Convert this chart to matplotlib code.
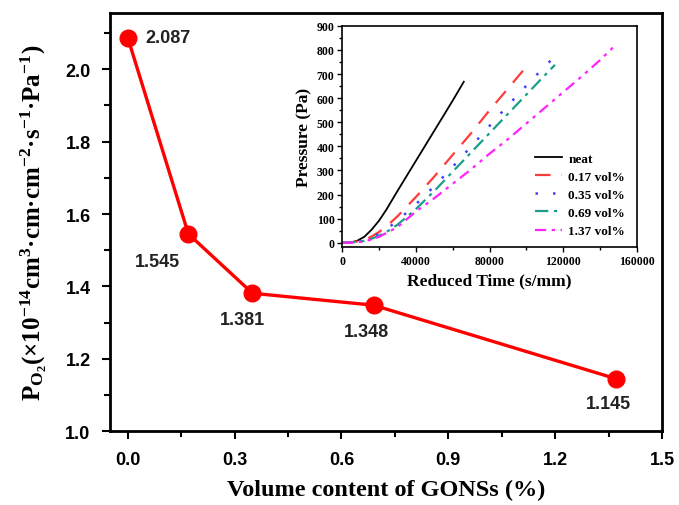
import matplotlib
matplotlib.use("Agg")
import matplotlib.pyplot as plt
from matplotlib.ticker import MultipleLocator

plt.rcParams['mathtext.default'] = 'regular'

# main data
content = [0.0, 0.17, 0.35, 0.69, 1.37]
perm = [2.087, 1.545, 1.381, 1.348, 1.145]
perm_labels = ["2.087", "1.545", "1.381", "1.348", "1.145"]
# label offsets in points (dx, dy) and alignment
label_off = [(13, 0), (-6, -20), (-7, -19), (-5, -19), (-5, -18)]
label_ha = ["left", "right", "center", "center", "center"]

# inset data: pressure vs reduced time
t_neat = [0, 4000, 8000, 12000, 16000, 20000, 24000, 30000, 40000, 50000, 60000, 66000]
p_neat = [0, 1, 8, 25, 55, 92, 138, 215, 340, 465, 590, 668]
t_017 = [0, 5000, 10000, 15000, 20000, 25000, 30000, 40000, 50000, 60000, 70000, 80000, 90000, 101000]
p_017 = [0, 2, 8, 22, 45, 75, 110, 190, 275, 365, 455, 550, 640, 740]
t_035 = [0, 5000, 10000, 15000, 20000, 25000, 30000, 40000, 50000, 60000, 70000, 80000, 90000, 100000, 110000, 118000]
p_035 = [0, 2, 6, 18, 38, 62, 92, 160, 235, 315, 400, 485, 570, 652, 732, 792]
t_069 = [0, 5000, 10000, 15000, 20000, 25000, 30000, 40000, 50000, 60000, 70000, 80000, 90000, 100000, 110000, 115500]
p_069 = [0, 2, 5, 14, 30, 50, 75, 140, 215, 295, 375, 455, 535, 615, 695, 738]
t_137 = [0, 5000, 10000, 15000, 20000, 25000, 30000, 40000, 50000, 60000, 70000, 80000, 90000, 100000, 110000, 120000, 130000, 140000, 149000]
p_137 = [0, 1, 4, 12, 25, 45, 65, 130, 185, 245, 305, 370, 430, 495, 560, 625, 690, 758, 825]
series_names = ["neat", "0.17 vol%", "0.35 vol%", "0.69 vol%", "1.37 vol%"]

sans = "Liberation Sans"
serif = "Liberation Serif"

fig = plt.figure(figsize=(6.79, 5.06), dpi=100)
ax = fig.add_axes([0.162, 0.146, 0.813, 0.826])

ax.plot(content, perm, color="red", lw=2.4, marker="o", ms=12, zorder=3)
for x, y, s, off, ha in zip(content, perm, perm_labels, label_off, label_ha):
    ax.annotate(s, (x, y), xytext=off, textcoords="offset points",
                ha=ha, va="center", fontsize=13, fontweight="bold",
                family=sans, color="#222222")

ax.set_xlim(-0.05, 1.5)
ax.set_ylim(1.0, 2.155)
ax.xaxis.set_major_locator(MultipleLocator(0.3))
ax.xaxis.set_minor_locator(MultipleLocator(0.15))
ax.yaxis.set_major_locator(MultipleLocator(0.2))
ax.yaxis.set_minor_locator(MultipleLocator(0.1))
ax.tick_params(which="both", direction="out", width=1.5, top=False, right=False)
ax.tick_params(which="major", length=6, labelsize=13, pad=8)
ax.tick_params(which="minor", length=4)
for lab in ax.get_xticklabels() + ax.get_yticklabels():
    lab.set_family(sans)
    lab.set_fontweight("bold")
for sp in ax.spines.values():
    sp.set_linewidth(2)

ax.set_xlabel("Volume content of GONSs (%)", family=serif, fontweight="bold",
              fontsize=17.5, labelpad=8)
ax.set_ylabel("P$_{O_2}$(×10$^{-14}$cm$^3$·cm·cm$^{-2}$·s$^{-1}$·Pa$^{-1}$)",
              family=serif, fontweight="bold", fontsize=18, labelpad=12)

# inset
ins = fig.add_axes([0.504, 0.510, 0.434, 0.437])
ins.plot(t_neat, p_neat, color="black", lw=1.3, label=series_names[0])
ins.plot(t_017, p_017, color="#ff3b3b", lw=1.6, dashes=(7, 5), label=series_names[1])
ins.plot(t_035, p_035, color="#4040ff", lw=1.8, dashes=(1, 6), label=series_names[2])
ins.plot(t_069, p_069, color="#1a9e8c", lw=1.6, dashes=(6, 2.5, 1.5, 2.5), label=series_names[3])
ins.plot(t_137, p_137, color="#ff22ff", lw=1.6, dashes=(5, 2.5, 1.5, 2.5, 1.5, 2.5), label=series_names[4])
ins.set_xlim(0, 160000)
ins.set_ylim(-17, 900)
ins.xaxis.set_major_locator(MultipleLocator(40000))
ins.xaxis.set_minor_locator(MultipleLocator(20000))
ins.yaxis.set_major_locator(MultipleLocator(100))
ins.yaxis.set_minor_locator(MultipleLocator(50))
ins.tick_params(which="both", direction="out", width=1, top=False, right=False)
ins.tick_params(which="major", length=3.5, labelsize=8.5, pad=2)
ins.tick_params(which="minor", length=2)
for lab in ins.get_xticklabels() + ins.get_yticklabels():
    lab.set_family(serif)
    lab.set_fontweight("bold")
for sp in ins.spines.values():
    sp.set_linewidth(1.2)
ins.set_xlabel("Reduced Time (s/mm)", family=serif, fontweight="bold", fontsize=12.5, labelpad=4)
ins.set_ylabel("Pressure (Pa)", family=serif, fontweight="bold", fontsize=12.5, labelpad=3)
leg = ins.legend(loc="lower right", bbox_to_anchor=(1.0, -0.01), frameon=False,
                 prop={"family": serif, "weight": "bold", "size": 9.5},
                 handlelength=2.0, labelspacing=0.45, handletextpad=0.5)

fig.savefig("out.png", dpi=100)
